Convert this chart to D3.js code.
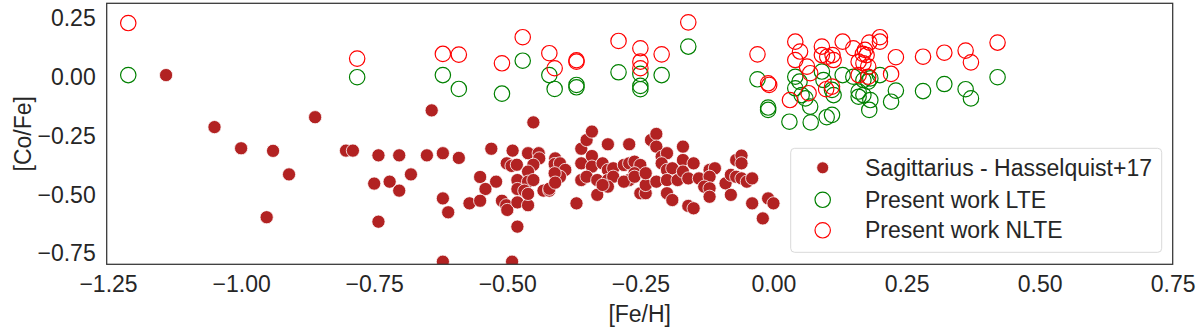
<!DOCTYPE html>
<html lang="en">
<head>
    <meta charset="UTF-8">
    <title>[Co/Fe] vs [Fe/H]</title>
    <script src="https://d3js.org/d3.v7.min.js"></script>
    <style>
        body { margin: 0; background: #fff; }
        text { font-family: "Liberation Sans", Arial, sans-serif; fill: #262626; }
        .tick-label { font-size: 23px; }
        .axis-label { font-size: 23px; }
        .legend-label { font-size: 23px; }
    </style>
</head>
<body>
    <div id="chart"></div>
    <script>
        // Sagittarius - Hasselquist+17
        const sgrFeH = [
            -1.141, -1.050, -1.000, -0.940, -0.910, -0.861, -0.952, -0.803, -0.790, -0.742,
            -0.750, -0.721, -0.742, -0.703, -0.703, -0.651, -0.621, -0.591, -0.642, -0.681,
            -0.621, -0.611, -0.621, -0.530, -0.551, -0.521, -0.541, -0.571, -0.551, -0.510,
            -0.502, -0.500, -0.481, -0.461, -0.481, -0.491, -0.451, -0.490, -0.501, -0.492,
            -0.482, -0.461, -0.441, -0.440, -0.451, -0.461, -0.481, -0.461, -0.451, -0.481,
            -0.468, -0.461, -0.432, -0.421, -0.421, -0.410, -0.411, -0.401, -0.391, -0.401,
            -0.411, -0.410, -0.370, -0.361, -0.351, -0.341, -0.361, -0.341, -0.341, -0.361,
            -0.351, -0.331, -0.321, -0.331, -0.311, -0.311, -0.301, -0.311, -0.301, -0.311,
            -0.321, -0.271, -0.281, -0.271, -0.261, -0.250, -0.261, -0.271, -0.281, -0.261,
            -0.250, -0.240, -0.240, -0.240, -0.230, -0.220, -0.220, -0.210, -0.200, -0.210,
            -0.200, -0.190, -0.220, -0.200, -0.180, -0.200, -0.190, -0.170, -0.170, -0.170,
            -0.150, -0.160, -0.140, -0.160, -0.150, -0.120, -0.110, -0.120, -0.130, -0.120,
            -0.120, -0.090, -0.080, -0.070, -0.060, -0.060, -0.080, -0.070, -0.060, -0.050,
            -0.040, -0.040, -0.020, -0.010, 0.000
        ];
        const sgrCoFe = [
            0.008, -0.213, -0.303, -0.314, -0.414, -0.171, -0.596, -0.313, -0.313, -0.333,
            -0.453, -0.445, -0.615, -0.333, -0.483, -0.333, -0.324, -0.344, -0.142, -0.414,
            -0.516, -0.575, -0.785, -0.305, -0.425, -0.445, -0.476, -0.537, -0.526, -0.526,
            -0.545, -0.565, -0.533, -0.545, -0.636, -0.785, -0.193, -0.313, -0.367, -0.378,
            -0.373, -0.324, -0.324, -0.346, -0.373, -0.402, -0.438, -0.445, -0.438, -0.476,
            -0.483, -0.497, -0.483, -0.483, -0.475, -0.346, -0.370, -0.367, -0.395, -0.424,
            -0.409, -0.449, -0.537, -0.305, -0.268, -0.232, -0.367, -0.336, -0.381, -0.438,
            -0.424, -0.438, -0.367, -0.501, -0.286, -0.395, -0.388, -0.438, -0.424, -0.466,
            -0.459, -0.286, -0.374, -0.367, -0.360, -0.374, -0.409, -0.438, -0.445, -0.424,
            -0.494, -0.494, -0.459, -0.409, -0.268, -0.242, -0.296, -0.339, -0.324, -0.367,
            -0.395, -0.388, -0.445, -0.438, -0.438, -0.494, -0.523, -0.296, -0.353, -0.402,
            -0.367, -0.431, -0.431, -0.548, -0.558, -0.395, -0.388, -0.424, -0.466, -0.473,
            -0.509, -0.452, -0.501, -0.353, -0.334, -0.367, -0.416, -0.424, -0.431, -0.445,
            -0.431, -0.537, -0.601, -0.516, -0.537
        ];

        // Present work LTE
        const lteFeH = [
            -1.212, -0.782, -0.621, -0.591, -0.510, -0.471, -0.421, -0.411, -0.370, -0.370,
            -0.291, -0.250, -0.250, -0.250, -0.210, -0.160, -0.030, -0.010, -0.010,
            0.041, 0.049, 0.041, 0.053, 0.060, 0.069, 0.030, 0.070, 0.100, 0.110,
            0.091, 0.094, 0.110, 0.113, 0.130, 0.150, 0.160, 0.160, 0.169, 0.169,
            0.178, 0.182, 0.182, 0.180, 0.200, 0.221, 0.230, 0.281, 0.321, 0.361,
            0.371, 0.421
        ];
        const lteCoFe = [
            0.008, -0.001, 0.008, -0.051, -0.071, 0.069, 0.008, -0.051, -0.034, -0.044,
            0.020, 0.013, -0.038, -0.052, 0.008, 0.129, -0.010, -0.130, -0.140,
            0.001, -0.020, -0.048, -0.077, -0.091, -0.126, -0.190, -0.193, -0.171, -0.161,
            0.023, -0.013, -0.055, -0.077, 0.008, 0.001, -0.062, -0.084, -0.077, -0.013,
            -0.020, -0.006, -0.098, -0.140, 0.008, -0.105, -0.058, -0.060, -0.030, -0.052,
            -0.091, -0.001
        ];

        // Present work NLTE
        const nlteFeH = [
            -1.212, -0.782, -0.621, -0.591, -0.510, -0.471, -0.421, -0.411, -0.370, -0.370,
            -0.291, -0.250, -0.250, -0.250, -0.210, -0.160, -0.030, -0.010, -0.008,
            0.041, 0.050, 0.041, 0.063, 0.069, 0.031, 0.066, 0.091, 0.091, 0.101,
            0.111, 0.113, 0.099, 0.110, 0.130, 0.150, 0.172, 0.168, 0.175, 0.180,
            0.200, 0.200, 0.160, 0.169, 0.178, 0.160, 0.178, 0.230, 0.221, 0.281,
            0.321, 0.361, 0.371, 0.421
        ];
        const nlteCoFe = [
            0.229, 0.078, 0.098, 0.095, 0.058, 0.169, 0.101, 0.037, 0.071, 0.065,
            0.153, 0.122, 0.065, 0.037, 0.096, 0.232, 0.096, -0.027, -0.034,
            0.150, 0.108, 0.072, 0.044, 0.016, -0.098, -0.069, 0.129, 0.093, 0.086,
            0.093, 0.072, -0.052, -0.041, 0.150, 0.122, 0.115, 0.098, 0.093, 0.146,
            0.169, 0.150, 0.065, 0.058, 0.044, 0.008, 0.001, 0.084, 0.013, 0.086,
            0.103, 0.112, 0.062, 0.146
        ];

        const xTicks = [-1.25, -1.00, -0.75, -0.50, -0.25, 0.00, 0.25, 0.50, 0.75];
        const yTicks = [0.25, 0.00, -0.25, -0.50, -0.75];
        const legendLabels = ["Sagittarius - Hasselquist+17", "Present work LTE", "Present work NLTE"];

        const totalWidth = 1200;
        const totalHeight = 331;
        const margin = { top: 3.3, right: 27.3, bottom: 66.7, left: 106.7 };
        const width = totalWidth - margin.left - margin.right;
        const height = totalHeight - margin.top - margin.bottom;

        const svg = d3.select("#chart")
            .append("svg")
            .attr("width", totalWidth)
            .attr("height", totalHeight);

        const g = svg.append("g")
            .attr("transform", `translate(${margin.left},${margin.top})`);

        const x = d3.scaleLinear()
            .domain([-1.2525, 0.75])
            .range([0, width]);

        const y = d3.scaleLinear()
            .domain([-0.796, 0.313])
            .range([height, 0]);

        const fmt = v => d3.format(".2f")(v).replace("-", "\u2212");

        g.append("clipPath")
            .attr("id", "plot-clip")
            .append("rect")
            .attr("width", width)
            .attr("height", height);

        // axes: ticks hidden, labels only (seaborn white style)
        const xAxis = g.append("g")
            .attr("transform", `translate(0,${height})`)
            .call(d3.axisBottom(x).tickValues(xTicks).tickSize(0).tickPadding(11).tickFormat(fmt));
        xAxis.select(".domain").remove();
        xAxis.selectAll("text").attr("class", "tick-label").attr("fill", "#262626").attr("dy", "0.71em");

        const yAxis = g.append("g")
            .call(d3.axisLeft(y).tickValues(yTicks).tickSize(0).tickPadding(11).tickFormat(fmt));
        yAxis.select(".domain").remove();
        yAxis.selectAll("text").attr("class", "tick-label").attr("fill", "#262626");

        const sgrData = sgrFeH.map((v, i) => ({ x: v, y: sgrCoFe[i] }));
        const lteData = lteFeH.map((v, i) => ({ x: v, y: lteCoFe[i] }));
        const nlteData = nlteFeH.map((v, i) => ({ x: v, y: nlteCoFe[i] }));

        const plot = g.append("g").attr("clip-path", "url(#plot-clip)");

        plot.selectAll(".sgr")
            .data(sgrData)
            .enter().append("circle")
            .attr("class", "sgr")
            .attr("cx", d => x(d.x))
            .attr("cy", d => y(d.y))
            .attr("r", 6.6)
            .attr("fill", "#b22222")
            .attr("stroke", "#fff")
            .attr("stroke-width", 0.8);

        plot.selectAll(".lte")
            .data(lteData)
            .enter().append("circle")
            .attr("class", "lte")
            .attr("cx", d => x(d.x))
            .attr("cy", d => y(d.y))
            .attr("r", 7.7)
            .attr("fill", "none")
            .attr("stroke", "#008000")
            .attr("stroke-width", 1.2);

        plot.selectAll(".nlte")
            .data(nlteData)
            .enter().append("circle")
            .attr("class", "nlte")
            .attr("cx", d => x(d.x))
            .attr("cy", d => y(d.y))
            .attr("r", 7.7)
            .attr("fill", "none")
            .attr("stroke", "#ff0000")
            .attr("stroke-width", 1.2);

        // frame
        g.append("rect")
            .attr("width", width)
            .attr("height", height)
            .attr("fill", "none")
            .attr("stroke", "#333")
            .attr("stroke-width", 1.25);

        // axis labels
        svg.append("text")
            .attr("class", "axis-label")
            .attr("x", margin.left + width / 2)
            .attr("y", 322)
            .attr("text-anchor", "middle")
            .text("[Fe/H]");

        svg.append("text")
            .attr("class", "axis-label")
            .attr("transform", `translate(31,${margin.top + height / 2}) rotate(-90)`)
            .attr("text-anchor", "middle")
            .text("[Co/Fe]");

        // legend
        const legend = svg.append("g").attr("transform", "translate(790.7,148.3)");
        legend.append("rect")
            .attr("width", 371)
            .attr("height", 104)
            .attr("rx", 4)
            .attr("fill", "#fff")
            .attr("fill-opacity", 0.8)
            .attr("stroke", "#d9d9d9")
            .attr("stroke-width", 1);

        const rowY = [19.5, 51.5, 82];
        legendLabels.forEach((label, i) => {
            const row = legend.append("g").attr("transform", `translate(0,${rowY[i]})`);
            if (i === 0) {
                row.append("circle").attr("cx", 32).attr("r", 6)
                    .attr("fill", "#b22222").attr("stroke", "#fff").attr("stroke-width", 0.8);
            } else {
                row.append("circle").attr("cx", 32).attr("r", 7.7)
                    .attr("fill", "none").attr("stroke", i === 1 ? "#008000" : "#ff0000").attr("stroke-width", 1.2);
            }
            row.append("text")
                .attr("class", "legend-label")
                .attr("x", 74.3)
                .attr("dy", "0.35em")
                .text(label);
        });
    </script>
</body>
</html>
